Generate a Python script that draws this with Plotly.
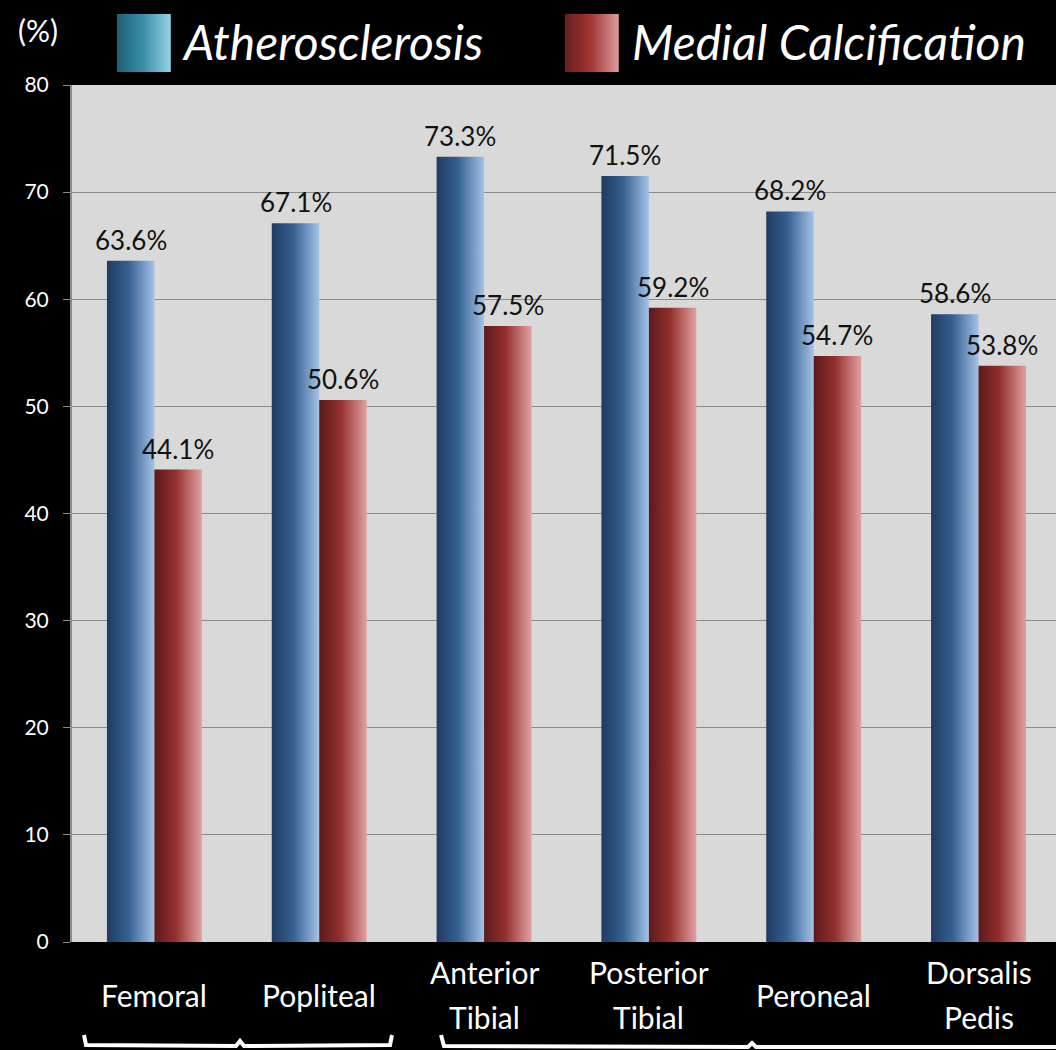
import plotly.graph_objects as go

# Arterial segments and prevalence (%) of each lesion type
segments = ["Femoral", "Popliteal", "Anterior<br>Tibial", "Posterior<br>Tibial", "Peroneal", "Dorsalis<br>Pedis"]
atherosclerosis = [63.6, 67.1, 73.3, 71.5, 68.2, 58.6]
medial_calcification = [44.1, 50.6, 57.5, 59.2, 54.7, 53.8]
y_ticks = [0, 10, 20, 30, 40, 50, 60, 70, 80]

W, H = 1056, 1050
L, R, T, B = 72, 0, 85, 108
PW, PH = W - L - R, H - T - B

BAR_W = 0.288
BLUE_SCALE = [[0, "#1f3b62"], [0.45, "#35608f"], [1, "#a3c2e8"]]
RED_SCALE = [[0, "#5a1a1a"], [0.45, "#94302f"], [1, "#e3a0a0"]]
FONT = "Lato"


def px(x, y):
    """Convert pixel position to paper coordinates."""
    return (x - L) / PW, (H - B - y) / PH


fig = go.Figure()


def add_bar(x0, x1, value, scale):
    fig.add_trace(go.Scatter(
        x=[x0, x1, x1, x0, x0],
        y=[0, 0, value, value, 0],
        mode="lines",
        line=dict(width=0),
        fill="toself",
        fillgradient=dict(type="horizontal", colorscale=scale, start=x0, stop=x1),
        hoverinfo="skip",
        showlegend=False,
    ))


for i, (a, m) in enumerate(zip(atherosclerosis, medial_calcification)):
    add_bar(i - BAR_W, i, a, BLUE_SCALE)
    add_bar(i, i + BAR_W, m, RED_SCALE)

annotations = []
# value labels above bars
for i, (a, m) in enumerate(zip(atherosclerosis, medial_calcification)):
    for xc, v in ((i - BAR_W / 2, a), (i + BAR_W / 2, m)):
        annotations.append(dict(
            x=xc, y=v, xref="x", yref="y", text=f"{v:.1f}%",
            showarrow=False, yanchor="bottom", yshift=3,
            font=dict(family=FONT, size=26, color="#111111"),
        ))

# category labels under the axis (one annotation per text line)
for i, s in enumerate(segments):
    lines = s.split("<br>")
    rows = [995] if len(lines) == 1 else [972, 1017]
    for line, yp in zip(lines, rows):
        annotations.append(dict(
            x=i, y=px(0, yp)[1], xref="x", yref="paper", text=line,
            showarrow=False, yanchor="middle", xanchor="center",
            font=dict(family=FONT, size=30, color="white"),
        ))

# unit label and legend text
annotations.append(dict(
    x=px(38, 0)[0], y=px(0, 30)[1], xref="paper", yref="paper", text="(%)",
    showarrow=False, xanchor="center", yanchor="middle",
    font=dict(family=FONT, size=30, color="white"),
))
annotations.append(dict(
    x=px(180, 0)[0], y=px(0, 42)[1], xref="paper", yref="paper",
    text="<i>Atherosclerosis</i>", showarrow=False, xanchor="left", yanchor="middle",
    font=dict(family=FONT, size=48, color="white"),
))
annotations.append(dict(
    x=px(630, 0)[0], y=px(0, 42)[1], xref="paper", yref="paper",
    text="<i>Medial Calcification</i>", showarrow=False, xanchor="left", yanchor="middle",
    font=dict(family=FONT, size=48, color="white"),
))

shapes = []


def lerp_color(c0, c1, t):
    a = [int(c0[k:k + 2], 16) for k in (1, 3, 5)]
    b = [int(c1[k:k + 2], 16) for k in (1, 3, 5)]
    return "rgb({},{},{})".format(*[round(p + (q - p) * t) for p, q in zip(a, b)])


def legend_swatch(x0, x1, y0, y1, stops):
    n = 53
    for k in range(n):
        t = (k + 0.5) / n
        if t < 0.5:
            c = lerp_color(stops[0], stops[1], t / 0.5)
        else:
            c = lerp_color(stops[1], stops[2], (t - 0.5) / 0.5)
        xa, ya = px(x0 + (x1 - x0) * k / n, y1)
        xb, yb = px(x0 + (x1 - x0) * (k + 1) / n, y0)
        shapes.append(dict(type="rect", xref="paper", yref="paper",
                           x0=xa, x1=xb + 0.0008, y0=ya, y1=yb,
                           line=dict(width=0), fillcolor=c, layer="above"))


legend_swatch(117, 170, 14, 72, ["#1d5f75", "#3b8fa8", "#93d0e3"])
legend_swatch(565, 618, 14, 72, ["#6a1e1e", "#a33636", "#dc9a9a"])


def bracket_path(points):
    d = ""
    for k, (x, y) in enumerate(points):
        xp, yp = px(x, y)
        d += ("M" if k == 0 else "L") + f"{xp:.5f},{yp:.5f} "
    return d


# grouping brackets under the category labels
shapes.append(dict(type="path", xref="paper", yref="paper",
                   path=bracket_path([(84, 1035), (86, 1045), (236, 1046), (240, 1041),
                                      (244, 1046), (390, 1045), (392, 1035)]),
                   line=dict(color="white", width=4)))
shapes.append(dict(type="path", xref="paper", yref="paper",
                   path=bracket_path([(441, 1035), (444, 1046), (748, 1047), (752, 1043),
                                      (756, 1047), (1060, 1047)]),
                   line=dict(color="white", width=4)))

fig.update_layout(
    width=W, height=H,
    margin=dict(l=L, r=R, t=T, b=B),
    paper_bgcolor="black",
    plot_bgcolor="#d9d9d9",
    showlegend=False,
    annotations=annotations,
    shapes=shapes,
    xaxis=dict(range=[-0.5, 5.47], showticklabels=False, showgrid=False,
               zeroline=False, showline=False, ticks=""),
    yaxis=dict(range=[0, 80], tickvals=y_ticks, showgrid=True, gridcolor="#8c8c8c",
               gridwidth=1, zeroline=False, showline=True, linecolor="#8c8c8c",
               linewidth=2, ticks="outside", ticklen=7, tickcolor="#8c8c8c",
               tickfont=dict(family=FONT, size=21, color="white"),
               ticklabelstandoff=10),
)

fig.write_html("out.html")
